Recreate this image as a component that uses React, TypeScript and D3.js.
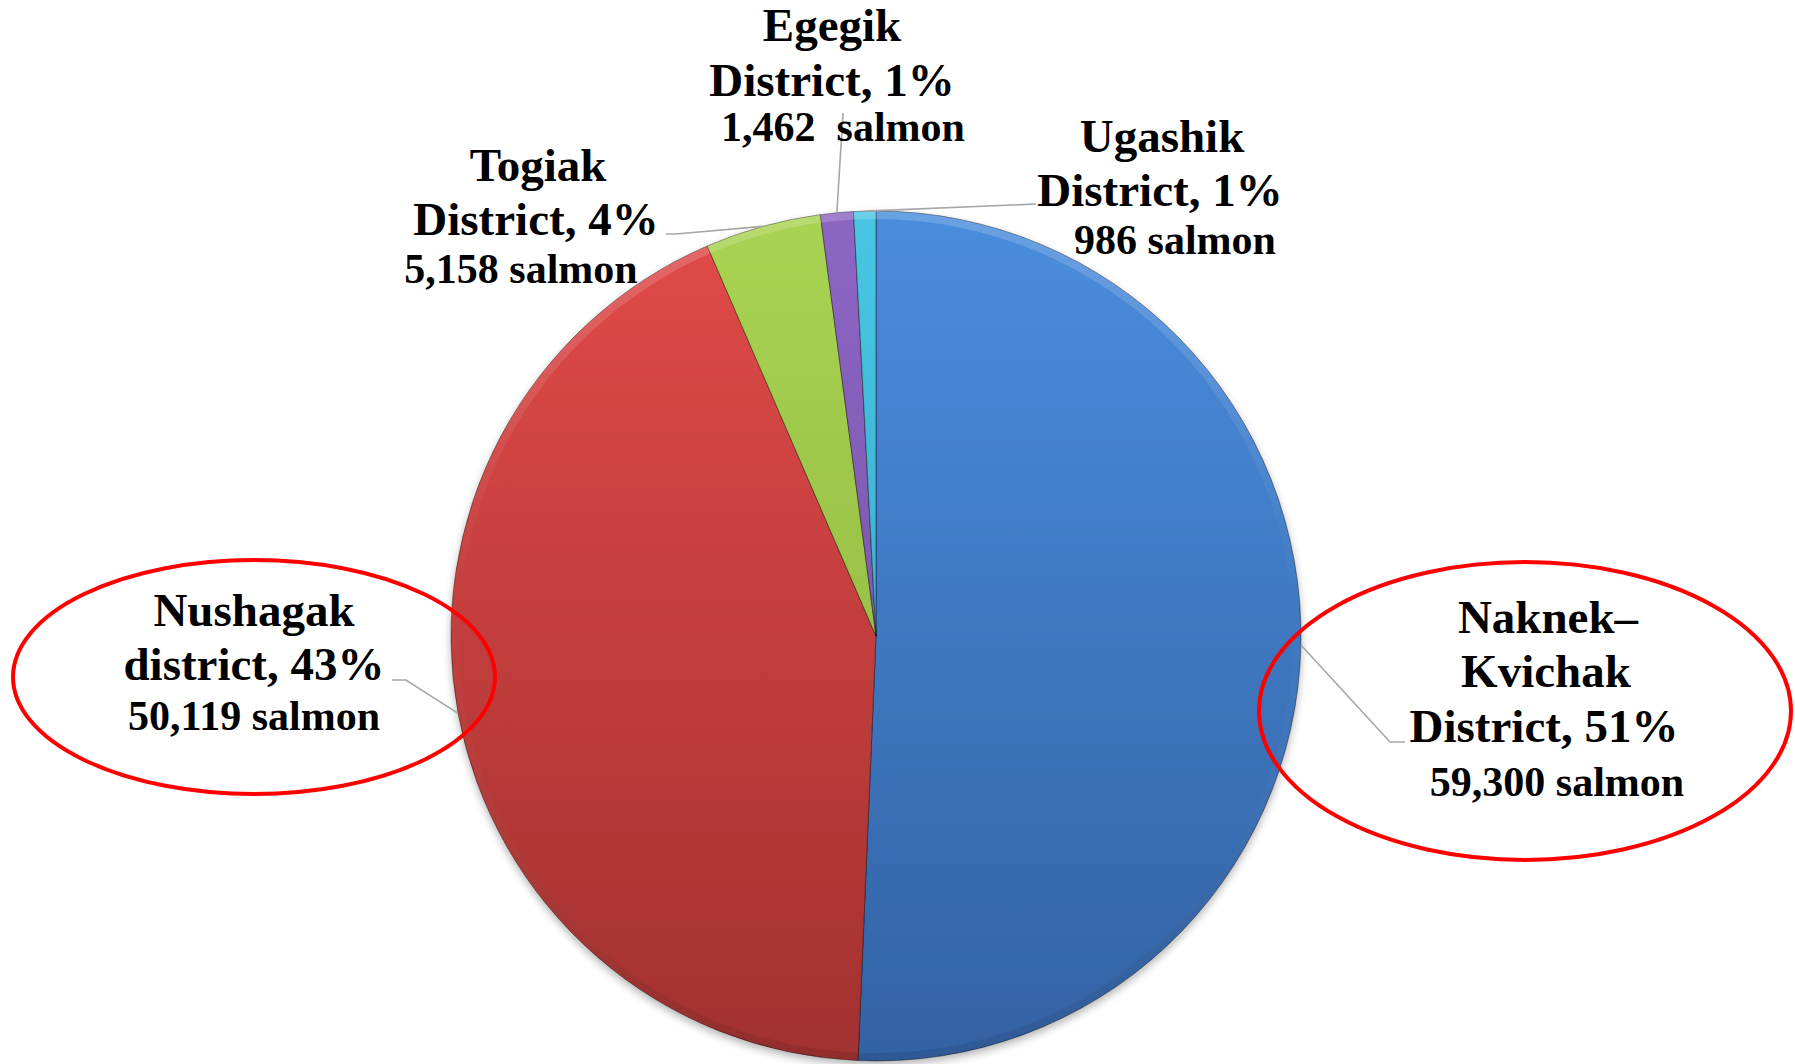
import React from "react";
import * as d3 from "d3";

// ---- data ----
const districtNames: string[][] = [
  ["Naknek–", "Kvichak", "District"],
  ["Nushagak", "district"],
  ["Togiak", "District"],
  ["Egegik", "District"],
  ["Ugashik", "District"],
];
const salmonCounts: number[] = [59300, 50119, 5158, 1462, 986];
const sliceColors: [string, string][] = [
  ["#4a8ddd", "#3362a4"],
  ["#e24a48", "#a23130"],
  ["#a9d352", "#88b03c"],
  ["#8d66c4", "#6c4c9c"],
  ["#48c6e4", "#2e9ebf"],
];
const highlighted: boolean[] = [true, true, false, false, false];

// ---- layout (positions only) ----
const W = 1795;
const H = 1064;
const CX = 876;
const CY = 636;
const R = 425;
const TITLE_FS = 47;
const SALMON_FS = 42;

type LabelLayout = {
  titleX: number[];
  titleY: number[];
  salmonX: number;
  salmonY: number;
  leader: [number, number][];
  ellipse?: { cx: number; cy: number; rx: number; ry: number };
};

const layouts: LabelLayout[] = [
  {
    titleX: [1548, 1546, 1544],
    titleY: [633, 687, 742],
    salmonX: 1557,
    salmonY: 796,
    leader: [[1405, 742], [1390, 742]],
    ellipse: { cx: 1525, cy: 711, rx: 266, ry: 149 },
  },
  {
    titleX: [254, 254],
    titleY: [626, 680],
    salmonX: 254,
    salmonY: 730,
    leader: [[392, 680], [406, 680]],
    ellipse: { cx: 254, cy: 677, rx: 241, ry: 117 },
  },
  {
    titleX: [538, 536],
    titleY: [181, 235],
    salmonX: 521,
    salmonY: 283,
    leader: [[666, 234], [676, 234]],
  },
  {
    titleX: [832, 832],
    titleY: [41, 96],
    salmonX: 843,
    salmonY: 141,
    leader: [[843, 113]],
  },
  {
    titleX: [1162, 1160],
    titleY: [152, 206],
    salmonX: 1175,
    salmonY: 254,
    leader: [[1036, 204]],
  },
];

export default function App() {
  const total = d3.sum(salmonCounts);
  const pie = d3
    .pie<number>()
    .sort(null)
    .startAngle(0)
    .endAngle(2 * Math.PI)
    .value((d) => d);
  const arcs = pie(salmonCounts);
  const arc = d3.arc<d3.PieArcDatum<number>>().innerRadius(0).outerRadius(R);
  const rim = d3
    .arc<d3.PieArcDatum<number>>()
    .innerRadius(R - 8)
    .outerRadius(R);
  const fmt = d3.format(",");
  const line = d3.line();

  const edgePoint = (a: d3.PieArcDatum<number>, rr: number): [number, number] => {
    const m = (a.startAngle + a.endAngle) / 2;
    return [CX + rr * Math.sin(m), CY - rr * Math.cos(m)];
  };

  return (
    <svg
      width={W}
      height={H}
      style={{ position: "absolute", left: 0, top: 0, background: "#fff" }}
      fontFamily="'Liberation Serif', 'Times New Roman', serif"
      fontWeight="bold"
    >
      <defs>
        {sliceColors.map((c, i) => (
          <linearGradient
            key={i}
            id={`g${i}`}
            gradientUnits="userSpaceOnUse"
            x1={0}
            y1={-R}
            x2={0}
            y2={R}
          >
            <stop offset="0%" stopColor={c[0]} />
            <stop offset="100%" stopColor={c[1]} />
          </linearGradient>
        ))}
        <linearGradient id="rimg" gradientUnits="userSpaceOnUse" x1={0} y1={-R} x2={0} y2={R}>
          <stop offset="0%" stopColor="#ffffff" stopOpacity={0.18} />
          <stop offset="45%" stopColor="#ffffff" stopOpacity={0.0} />
          <stop offset="100%" stopColor="#000000" stopOpacity={0.1} />
        </linearGradient>
        <filter id="shadow" x="-20%" y="-20%" width="140%" height="140%">
          <feGaussianBlur in="SourceAlpha" stdDeviation={4} />
          <feOffset dx={0} dy={4} result="b" />
          <feComponentTransfer>
            <feFuncA type="linear" slope={0.3} />
          </feComponentTransfer>
          <feMerge>
            <feMergeNode />
            <feMergeNode in="SourceGraphic" />
          </feMerge>
        </filter>
      </defs>

      <g transform={`translate(${CX},${CY})`} filter="url(#shadow)">
        {arcs.map((a, i) => (
          <path
            key={i}
            d={arc(a) || ""}
            fill={`url(#g${i})`}
            stroke="rgba(0,0,0,0.4)"
            strokeWidth={1}
          />
        ))}
      </g>
      <g transform={`translate(${CX},${CY})`}>
        {arcs.map((a, i) => (
          <path key={i} d={rim(a) || ""} fill="url(#rimg)" />
        ))}
      </g>

      {/* leader lines */}
      {arcs.map((a, i) => {
        const L = layouts[i];
        const pts: [number, number][] = [...L.leader, edgePoint(a, R)];
        return (
          <path
            key={`l${i}`}
            d={line(pts) || ""}
            fill="none"
            stroke="#a6a6a6"
            strokeWidth={1.6}
          />
        );
      })}

      {/* labels */}
      {arcs.map((a, i) => {
        const L = layouts[i];
        const names = districtNames[i];
        const pct = Math.round((salmonCounts[i] / total) * 100);
        const lines = names.map((n, k) => (k === names.length - 1 ? `${n}, ${pct}%` : n));
        const salmonText = `${fmt(salmonCounts[i])}${i === 3 ? "\u00a0\u00a0" : " "}salmon`;
        return (
          <g key={`t${i}`} fill="#000">
            {lines.map((t, k) => (
              <text key={k} x={L.titleX[k]} y={L.titleY[k]} fontSize={TITLE_FS} textAnchor="middle">
                {t}
              </text>
            ))}
            <text x={L.salmonX} y={L.salmonY} fontSize={SALMON_FS} textAnchor="middle">
              {salmonText}
            </text>
          </g>
        );
      })}

      {/* red ellipses */}
      {layouts.map((L, i) =>
        L.ellipse && highlighted[i] ? (
          <ellipse
            key={`e${i}`}
            cx={L.ellipse.cx}
            cy={L.ellipse.cy}
            rx={L.ellipse.rx}
            ry={L.ellipse.ry}
            fill="none"
            stroke="#ff0000"
            strokeWidth={4}
          />
        ) : null
      )}
    </svg>
  );
}
